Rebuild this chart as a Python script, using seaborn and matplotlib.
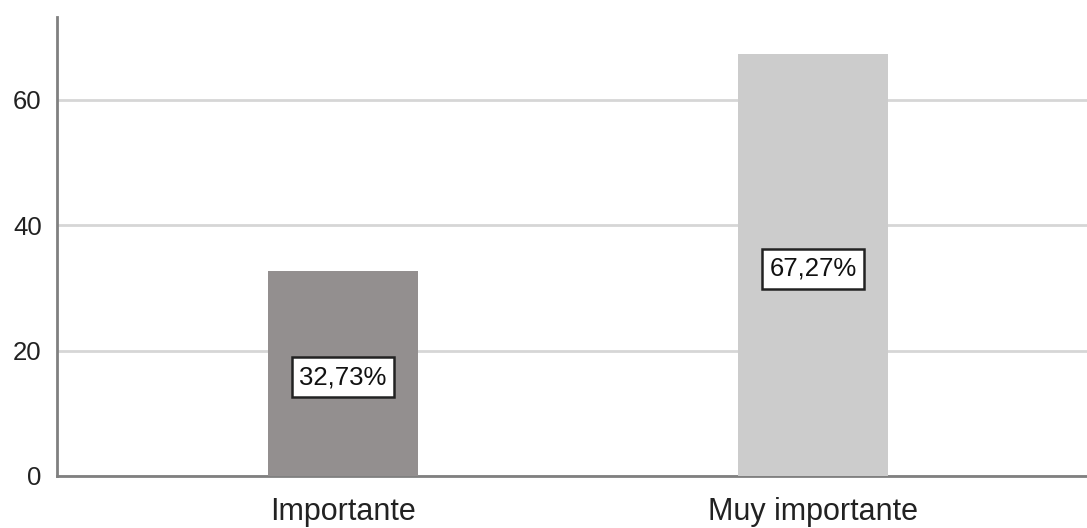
import pandas as pd
import matplotlib.pyplot as plt
import seaborn as sns

# Datos
categorias = ['Importante', 'Muy importante']
porcentajes = [32.73, 67.27]
etiquetas = ['32,73%', '67,27%']
colores = ['#948f8e', '#cccccc']

df = pd.DataFrame({'categoria': categorias, 'porcentaje': porcentajes})

sns.set_style('white')
plt.rcParams['font.family'] = ['Liberation Sans', 'DejaVu Sans']

fig = plt.figure(figsize=(10.87, 5.28), dpi=100)
ax = fig.add_axes([0.0524, 0.0985, 0.9476, 0.8693])

sns.barplot(
    data=df, x='categoria', y='porcentaje', hue='categoria',
    palette=colores, width=0.32, legend=False, ax=ax, zorder=3,
    edgecolor='none', linewidth=0,
)

# Etiquetas con caja en el centro de cada barra
for i, (v, txt) in enumerate(zip(porcentajes, etiquetas)):
    ax.text(i, v / 2 - 0.6, txt, ha='center', va='center', fontsize=18.5, color='#111111',
            bbox=dict(boxstyle='square,pad=0.3', facecolor='white', edgecolor='#222222', linewidth=1.8),
            zorder=5)

ax.set_xlim(-0.6085, 1.583)
ax.set_ylim(0, 73.2)
ax.set_yticks([0, 20, 40, 60])
ax.yaxis.grid(True, color='#d6d6d6', linewidth=2, zorder=0)
ax.set_axisbelow(True)
ax.set_xlabel('')
ax.set_ylabel('')

for lado in ['top', 'right']:
    ax.spines[lado].set_visible(False)
for lado in ['left', 'bottom']:
    ax.spines[lado].set_color('#808080')
    ax.spines[lado].set_linewidth(2)

ax.tick_params(axis='y', length=0, labelsize=18.5, pad=11, labelcolor='#222222')
ax.tick_params(axis='x', length=0, labelsize=22, pad=15, labelcolor='#222222')

fig.savefig('out.png', dpi=100, facecolor='white')
